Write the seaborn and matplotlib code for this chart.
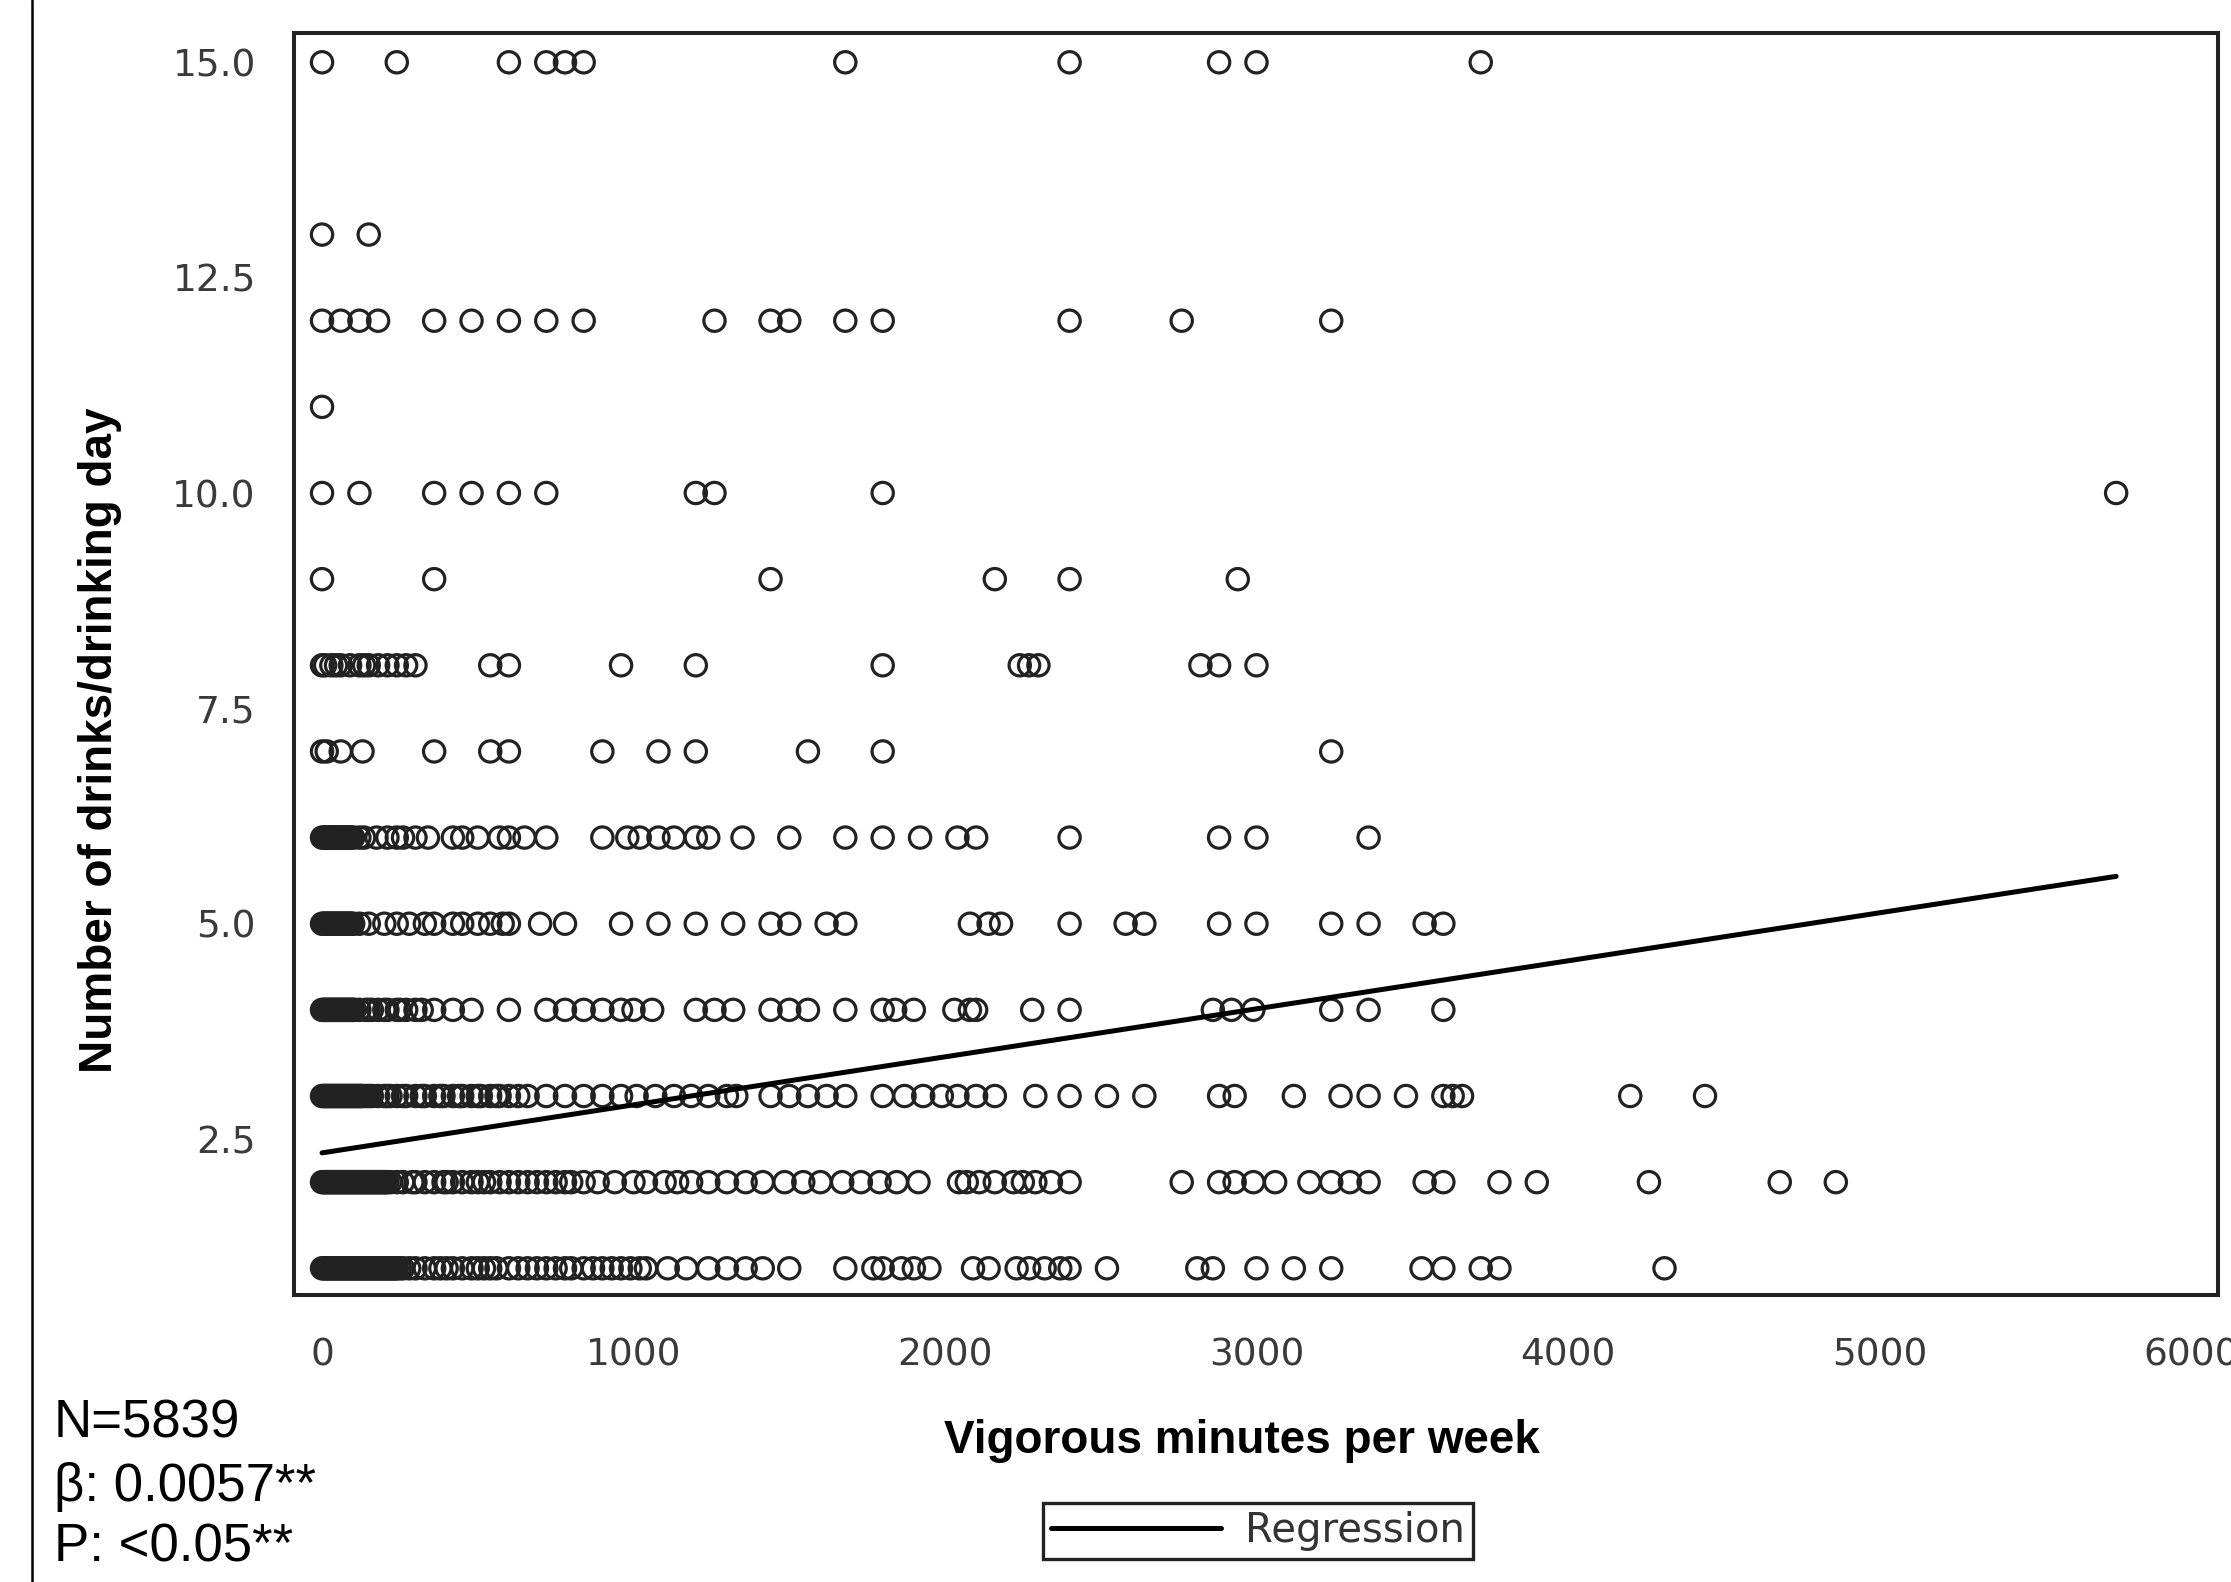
import matplotlib
matplotlib.use("Agg")
import matplotlib.pyplot as plt
from matplotlib.lines import Line2D
import seaborn as sns
import pandas as pd

# ---------------- data ----------------
# x = vigorous minutes per week, grouped by number of drinks per drinking day
drinks_1 = [0, 5, 10, 15, 20, 25, 30, 35, 40, 45, 50, 55, 60, 65, 70, 75, 80, 85, 90, 95, 100,
            105, 110, 115, 120, 125, 130, 135, 140, 145, 150, 155, 160, 165, 170, 175, 180, 185,
            190, 195, 200, 205, 210, 215, 220, 225, 230, 235, 240, 250, 260,
            280, 300, 330, 360, 380, 400, 420, 450, 480, 500, 520, 540, 560, 600, 630,
            660, 690, 720, 750, 780, 800, 840, 870, 900, 930, 960, 990, 1020, 1040,
            1110, 1170, 1240, 1300, 1360, 1415, 1500, 1680, 1770, 1800, 1860, 1900, 1950,
            2090, 2140, 2230, 2270, 2320, 2370, 2400, 2520, 2810, 2860, 3000, 3120, 3240,
            3530, 3600, 3720, 3780, 4310]
drinks_2 = [0, 5, 10, 15, 20, 25, 30, 35, 40, 45, 50, 55, 60, 65, 70, 75, 80, 85, 90, 95, 100,
            105, 110, 115, 120, 125, 130, 135, 140, 145, 150, 155, 160, 165, 170, 175, 180, 185,
            190, 195, 200, 205, 210, 220,
            240, 260, 290, 300, 330, 360, 390, 400, 420, 450, 480, 500, 520, 540, 570, 600,
            630, 660, 690, 720, 750, 780, 800,
            840, 885, 940, 1000, 1040, 1100, 1140, 1185, 1240, 1300, 1360, 1415, 1485, 1545,
            1600, 1670, 1730, 1790, 1845, 1915, 2045, 2070, 2110, 2160, 2220, 2250, 2290,
            2340, 2400, 2760, 2880, 2930, 2990, 3060, 3170, 3240, 3300, 3360, 3540, 3600,
            3780, 3900, 4260, 4680, 4860]
drinks_3 = [0, 5, 10, 15, 20, 25, 30, 35, 40, 45, 50, 55, 60, 65, 70, 75, 80, 85, 90, 95, 100,
            105, 110, 115, 120, 125, 130,
            140, 150, 160, 180, 200, 210, 220, 240, 260, 270, 300, 320, 330, 360, 380, 390,
            420, 440, 450, 480, 500, 510, 540, 560, 570, 600, 630, 660,
            720, 780, 840, 900, 960, 1010, 1070, 1130, 1185, 1240, 1300, 1330, 1440, 1500,
            1560, 1620, 1680, 1800, 1870, 1930, 1990, 2040, 2100, 2160, 2290, 2400, 2520,
            2640, 2880, 2930, 3120, 3270, 3360, 3480, 3600, 3630, 3660, 4200, 4440]
drinks_4 = [0, 5, 10, 15, 20, 25, 30, 35, 40, 45, 50, 55, 60, 65, 70, 75, 80, 85, 90, 95, 100,
            105, 120, 140, 150, 160, 180, 200, 210, 240, 250, 270, 300, 320,
            360, 420, 480, 600, 720, 780, 840, 900, 960, 1000, 1060, 1200, 1260, 1320, 1440,
            1500, 1560, 1680, 1800, 1840, 1900, 2030, 2080, 2100, 2280, 2400, 2860, 2920,
            2990, 3240, 3360, 3600]
drinks_5 = [0, 5, 10, 15, 20, 25, 30, 35, 40, 45, 50, 55, 60, 65, 70, 75, 80, 85, 90, 95, 100,
            120, 150, 200, 240, 280, 330, 360, 420, 450, 500, 540, 580, 600, 700, 780,
            960, 1080, 1200, 1320, 1440, 1500, 1620, 1680, 2080, 2140, 2180, 2400, 2580,
            2640, 2880, 3000, 3240, 3360, 3540, 3600]
drinks_6 = [0, 5, 10, 15, 20, 25, 30, 35, 40, 45, 50, 55, 60, 65, 70, 75, 80, 85, 90, 95, 100,
            120, 135, 175, 210, 240, 260, 300, 340, 420, 450, 500, 570, 600, 650, 720,
            900, 980, 1020, 1080, 1130, 1200, 1240, 1350, 1500, 1680, 1800, 1920, 2040,
            2100, 2400, 2880, 3000, 3360]
drinks_7 = [0, 15, 60, 130, 360, 540, 600, 900, 1080, 1200, 1560, 1800, 3240]
drinks_8 = [0, 10, 30, 45, 60, 90, 120, 135, 150, 180, 210, 240, 270, 300, 540, 600, 960,
            1200, 1800, 2240, 2270, 2300, 2820, 2880, 3000]
drinks_9 = [0, 360, 1440, 2160, 2400, 2940]
drinks_10 = [0, 120, 360, 480, 600, 720, 1200, 1260, 1800, 5760]
drinks_11 = [0]
drinks_12 = [0, 60, 120, 180, 360, 480, 600, 720, 840, 1260, 1440, 1500, 1680, 1800, 2400,
             2760, 3240]
drinks_13 = [0, 150]
drinks_15 = [0, 240, 600, 720, 780, 840, 1680, 2400, 2880, 3000, 3720]

drink_levels = [1, 2, 3, 4, 5, 6, 7, 8, 9, 10, 11, 12, 13, 15]
minutes_by_level = [drinks_1, drinks_2, drinks_3, drinks_4, drinks_5, drinks_6, drinks_7,
                    drinks_8, drinks_9, drinks_10, drinks_11, drinks_12, drinks_13, drinks_15]

# fitted regression line end points
reg_minutes = [0, 5760]
reg_drinks = [2.34, 5.55]

x_ticks = [0, 1000, 2000, 3000, 4000, 5000, 6000]
y_ticks = [2.5, 5.0, 7.5, 10.0, 12.5, 15.0]

stats_lines = ["N=5839", "β: 0.0057**", "P: <0.05**"]

# ---------------- build table ----------------
rows = []
for lvl, mins in zip(drink_levels, minutes_by_level):
    for m in mins:
        rows.append({"minutes": m, "drinks": lvl})
df = pd.DataFrame(rows)
reg_df = pd.DataFrame({"minutes": reg_minutes, "drinks": reg_drinks})

# ---------------- plot ----------------
sns.set_style("white")
plt.rcParams["font.family"] = ["DejaVu Sans"]

W, H = 2231, 1582
fig = plt.figure(figsize=(W / 100, H / 100), dpi=100)
ax_l, ax_r, ax_t, ax_b = 294, 2218, 33, 1295
ax = fig.add_axes([ax_l / W, 1 - ax_b / H, (ax_r - ax_l) / W, (ax_b - ax_t) / H])

sns.scatterplot(data=df, x="minutes", y="drinks", ax=ax, marker="o", s=235,
                facecolor="none", edgecolor="#222222", linewidth=2.3, legend=False)
sns.lineplot(data=reg_df, x="minutes", y="drinks", ax=ax, color="black", linewidth=3.6,
             label="Regression", legend=False)

ax.set_xlim(-90, 6087)
ax.set_ylim(0.69, 15.34)
ax.set_xticks(x_ticks)
ax.set_yticks(y_ticks)
ax.set_xticklabels([str(t) for t in x_ticks])
ax.set_yticklabels([f"{t:.1f}" for t in y_ticks])
ax.tick_params(axis="both", direction="out", length=16.5, width=2.2, color="#444444",
               labelcolor="#3a3a3a", labelsize=27)
ax.tick_params(axis="x", pad=14)
ax.tick_params(axis="y", pad=11)
for sp in ax.spines.values():
    sp.set_visible(True)
    sp.set_color("#222222")
    sp.set_linewidth(2.9)

lab_font = dict(family=["Liberation Sans", "DejaVu Sans"], weight="bold", size=33,
                color="black")
ax.set_xlabel("Vigorous minutes per week", **lab_font)
ax.set_ylabel("Number of drinks/drinking day", **lab_font)
ax.xaxis.set_label_coords((1242 - ax_l) / (ax_r - ax_l), -(1419 - ax_b) / (ax_b - ax_t))
ax.yaxis.set_label_coords(-(ax_l - 122) / (ax_r - ax_l), (ax_b - 740) / (ax_b - ax_t))

# legend
handle = Line2D([], [], color="black", linewidth=3.6)
leg = ax.legend([handle], ["Regression"], loc="center",
                bbox_to_anchor=(1258 / W, 1 - 1531 / H), bbox_transform=fig.transFigure,
                frameon=True, fancybox=False, framealpha=1, edgecolor="#222222",
                handlelength=4.2, handletextpad=0.6, borderpad=0.2, borderaxespad=0.0,
                prop={"family": "DejaVu Sans", "size": 29})
leg.get_frame().set_linewidth(2.4)
for t in leg.get_texts():
    t.set_color("#333333")

# stats text at bottom-left
for txt, yc in zip(stats_lines, [1423, 1487, 1548]):
    fig.text(54 / W, 1 - yc / H, txt, ha="left", va="center",
             family=["Liberation Sans", "DejaVu Sans"], size=38, color="black")

# left border line of the original page
fig.add_artist(Line2D([32 / W, 32 / W], [0, 1], transform=fig.transFigure,
                      color="black", linewidth=1.8))

fig.savefig("out.png", dpi=100, facecolor="white")
